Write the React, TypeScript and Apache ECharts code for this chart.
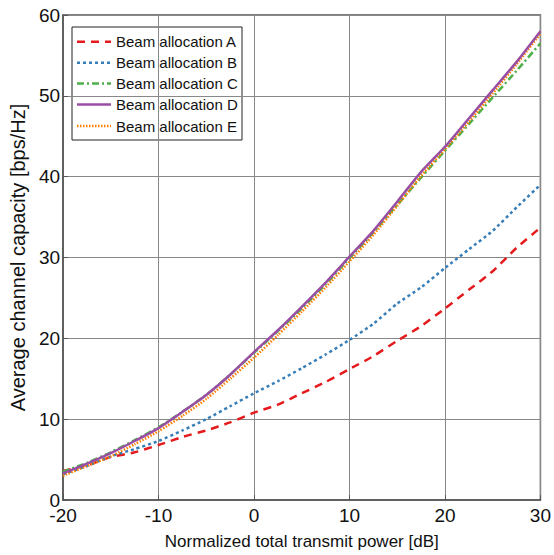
import React, { useEffect, useRef } from "react";
import * as echarts from "echarts";

const powerDb = [-20, -17.5, -15, -12.5, -10, -7.5, -5, -2.5, 0, 2.5, 5, 7.5, 10, 12.5, 15, 17.5, 20, 22.5, 25, 27.5, 30];
const seriesNames = ["Beam allocation A", "Beam allocation B", "Beam allocation C", "Beam allocation D", "Beam allocation E"];
const capA = [3.6, 4.3, 5.3, 5.9, 6.8, 7.8, 8.6, 9.6, 10.8, 11.8, 13.2, 14.6, 16.2, 17.8, 19.7, 21.5, 23.7, 26.0, 28.3, 31.2, 33.7];
const capB = [3.2, 4.2, 5.4, 6.3, 7.3, 8.6, 10.0, 11.6, 13.2, 14.7, 16.3, 18.0, 19.8, 21.8, 24.3, 26.3, 28.7, 31.0, 33.3, 36.2, 39.0];
const capC = [3.5, 4.6, 5.9, 7.4, 9.0, 10.9, 13.0, 15.5, 18.2, 20.9, 23.7, 26.7, 29.9, 33.1, 36.5, 39.9, 43.2, 46.5, 49.8, 53.1, 56.5];
const capD = [3.3, 4.5, 5.8, 7.3, 8.9, 10.9, 13.0, 15.5, 18.3, 21.0, 23.9, 26.9, 30.1, 33.3, 36.9, 40.6, 43.7, 47.2, 50.7, 54.2, 58.0];
const capE = [3.0, 4.2, 5.4, 6.9, 8.5, 10.4, 12.5, 15.0, 17.6, 20.4, 23.3, 26.3, 29.5, 32.8, 36.4, 40.1, 43.4, 46.8, 50.3, 53.9, 57.7];
const colors = ["#e41a1c", "#377eb8", "#4daf4a", "#984ea3", "#ff7f00"];
const dashes: any[] = [[8, 6], [3, 3], [7, 3, 2, 3], "solid", [1.5, 1.5]];
const xTicks = [-20, -10, 0, 10, 20, 30];
const yTicks = [0, 10, 20, 30, 40, 50, 60];

const FONT = "Liberation Sans";

export default function App() {
  const ref = useRef<HTMLDivElement>(null);
  useEffect(() => {
    if (!ref.current) return;
    const chart = echarts.init(ref.current, undefined, { renderer: "svg" });
    const all = [capA, capB, capC, capD, capE];
    const legendTop = 27;
    const legendLeft = 72;
    const rowY = [41.7, 62.7, 83.5, 104.5, 126];
    const legendChildren: any[] = [
      {
        type: "rect",
        shape: { x: legendLeft, y: legendTop, width: 170, height: 113 },
        style: { fill: "#fff", stroke: "#222", lineWidth: 1 },
      },
    ];
    seriesNames.forEach((name, i) => {
      legendChildren.push({
        type: "line",
        shape: { x1: 77, y1: rowY[i], x2: 111, y2: rowY[i] },
        style: {
          stroke: colors[i],
          lineWidth: 2.5,
          lineDash: dashes[i] === "solid" ? null : dashes[i],
        },
      });
      legendChildren.push({
        type: "text",
        x: 116,
        y: rowY[i],
        style: {
          text: name,
          fontFamily: FONT,
          fontSize: 15,
          fill: "#111",
          verticalAlign: "middle",
          align: "left",
        },
      });
    });
    chart.setOption({
      animation: false,
      backgroundColor: "#fff",
      textStyle: { fontFamily: FONT },
      grid: {
        left: 59.5,
        right: 11,
        top: 15,
        bottom: 55,
        show: true,
        borderColor: "#555",
        borderWidth: 1.5,
        backgroundColor: "transparent",
      },
      graphic: [{ type: "group", z: 100, children: legendChildren }],
      xAxis: {
        type: "value",
        min: -20,
        max: 30,
        interval: 10,
        name: "Normalized total transmit power [dB]",
        nameLocation: "middle",
        nameGap: 33,
        nameTextStyle: { fontFamily: FONT, fontSize: 17, color: "#111" },
        axisLine: { show: true, onZero: false, lineStyle: { color: "#555", width: 1.5 } },
        axisTick: { show: true, inside: true, length: 5, lineStyle: { color: "#555" } },
        axisLabel: { fontFamily: FONT, fontSize: 19, color: "#111", margin: 6, formatter: (v: number) => (xTicks.includes(v) ? String(v) : "") },
        splitLine: { show: true, lineStyle: { color: "#888", width: 1 } },
      },
      yAxis: {
        type: "value",
        min: 0,
        max: 60,
        interval: 10,
        name: "Average channel capacity [bps/Hz]",
        nameLocation: "middle",
        nameGap: 32,
        nameTextStyle: { fontFamily: FONT, fontSize: 20, color: "#111" },
        axisLine: { show: true, onZero: false, lineStyle: { color: "#555", width: 1.5 } },
        axisTick: { show: true, inside: true, length: 5, lineStyle: { color: "#555" } },
        axisLabel: { fontFamily: FONT, fontSize: 19, color: "#111", margin: 3, formatter: (v: number) => (yTicks.includes(v) ? String(v) : "") },
        splitLine: { show: true, lineStyle: { color: "#888", width: 1 } },
      },
      series: seriesNames.map((name, i) => ({
        name,
        type: "line",
        data: powerDb.map((x, j) => [x, all[i][j]]),
        showSymbol: false,
        symbol: "none",
        smooth: 0.2,
        z: i === 3 ? 5 : 3 + i * 0.1,
        lineStyle: { color: colors[i], width: 2.5, type: dashes[i] },
        itemStyle: { color: colors[i] },
      })),
    });
    return () => chart.dispose();
  }, []);
  return <div ref={ref} style={{ width: 554, height: 555, position: "absolute", left: 0, top: 0 }} />;
}
